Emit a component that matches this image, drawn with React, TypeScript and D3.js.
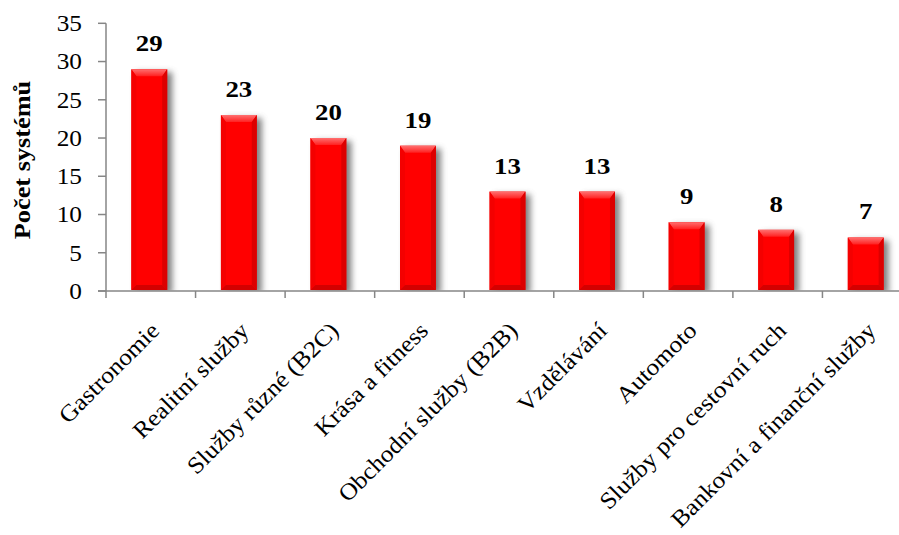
import React from "react";
import * as d3 from "d3";

const categories = [
  "Gastronomie",
  "Realitní služby",
  "Služby různé (B2C)",
  "Krása a fitness",
  "Obchodní služby (B2B)",
  "Vzdělávání",
  "Automoto",
  "Služby pro cestovní ruch",
  "Bankovní a finanční služby",
];
const values = [29, 23, 20, 19, 13, 13, 9, 8, 7];
const yTicks = [0, 5, 10, 15, 20, 25, 30, 35];
const yTitle = "Počet systémů";

const W = 899;
const H = 535;
const left = 106;
const right = 912;
const top = 23.3;
const bottom = 291;
const FONT = "'Liberation Serif', 'Times New Roman', serif";
const AXIS = "#868686";

export default function App() {
  const x = d3
    .scaleBand<string>()
    .domain(categories)
    .range([left, right])
    .paddingInner(0.6)
    .paddingOuter(0.3);
  const y = d3.scaleLinear().domain([0, 35]).range([bottom, top]);
  const step = x.step();
  const bw = x.bandwidth();
  const b = 5;

  return (
    <svg
      width={W}
      height={H}
      style={{ position: "absolute", left: 0, top: 0, background: "#fff" }}
    >
      <defs>
        <filter id="blur" x="-50%" y="-20%" width="200%" height="140%">
          <feGaussianBlur stdDeviation="3" />
        </filter>
        <clipPath id="plotclip">
          <rect x={left} y={0} width={W} height={bottom - 0.5} />
        </clipPath>
        <linearGradient id="topbev" x1="0" y1="0" x2="0" y2="1">
          <stop offset="0" stopColor="#ff7070" />
          <stop offset="1" stopColor="#ff2020" />
        </linearGradient>
      </defs>

      {/* shadows */}
      <g clipPath="url(#plotclip)">
        {values.map((v, i) => {
          const x0 = (x(categories[i]) as number) - 1.5;
          const y0 = y(v);
          return (
            <rect
              key={"s" + i}
              x={x0 + 5}
              y={y0 + 3}
              width={bw}
              height={bottom - y0}
              fill="#555"
              opacity={0.75}
              filter="url(#blur)"
            />
          );
        })}
      </g>

      {/* bars */}
      {values.map((v, i) => {
        const x0 = (x(categories[i]) as number) - 1.5;
        const x1 = x0 + bw;
        const y0 = y(v);
        const y1 = bottom - 1;
        return (
          <g key={"b" + i}>
            <rect x={x0} y={y0} width={bw} height={y1 - y0} fill="#ff0000" />
            <polygon
              points={`${x0},${y0} ${x1},${y0} ${x1 - b},${y0 + b + 2} ${x0 + b},${y0 + b + 2}`}
              fill="url(#topbev)"
            />
            <polygon
              points={`${x0},${y0} ${x0 + b},${y0 + b + 2} ${x0 + b},${y1 - b} ${x0},${y1}`}
              fill="#f40000"
            />
            <polygon
              points={`${x1},${y0} ${x1 - b},${y0 + b + 2} ${x1 - b},${y1 - b} ${x1},${y1}`}
              fill="#dc0000"
            />
            <polygon
              points={`${x0},${y1} ${x0 + b},${y1 - b} ${x1 - b},${y1 - b} ${x1},${y1}`}
              fill="#d40000"
            />
          </g>
        );
      })}

      {/* value labels */}
      {values.map((v, i) => {
        const cx = (x(categories[i]) as number) - 1.5 + bw / 2;
        return (
          <text
            key={"v" + i}
            transform={`translate(${cx},${y(v) - 18}) scale(1.12,1)`}
            textAnchor="middle"
            fontFamily={FONT}
            fontWeight="bold"
            fontSize={24}
            fill="#000"
          >
            {v}
          </text>
        );
      })}

      {/* y axis */}
      <line x1={left} x2={left} y1={top} y2={bottom} stroke={AXIS} strokeWidth={1.5} />
      {yTicks.map((t) => (
        <g key={"yt" + t}>
          <line x1={left - 8} x2={left} y1={y(t)} y2={y(t)} stroke={AXIS} strokeWidth={1.5} />
          <text
            transform={`translate(82,${y(t) + 7.8}) scale(1.1,1)`}
            textAnchor="end"
            fontFamily={FONT}
            fontSize={23}
            fill="#000"
          >
            {t}
          </text>
        </g>
      ))}

      {/* x axis */}
      <line x1={left - 8} x2={W} y1={bottom} y2={bottom} stroke={AXIS} strokeWidth={1.5} />
      {categories.map((c, i) => {
        const tx = left + i * step;
        return (
          <line
            key={"xt" + i}
            x1={tx}
            x2={tx}
            y1={bottom}
            y2={bottom + 7}
            stroke={AXIS}
            strokeWidth={1.5}
          />
        );
      })}
      {categories.map((c) => {
        const cx = (x(c) as number) + bw / 2;
        return (
          <text
            key={"xl" + c}
            transform={`translate(${cx + 10},332) rotate(-45) scale(1.08,1)`}
            textAnchor="end"
            fontFamily={FONT}
            fontSize={23.5}
            fill="#000"
          >
            {c}
          </text>
        );
      })}

      {/* y title */}
      <text
        transform={`translate(30,160) rotate(-90) scale(1.12,1)`}
        textAnchor="middle"
        fontFamily={FONT}
        fontWeight="bold"
        fontSize={23.5}
        fill="#000"
      >
        {yTitle}
      </text>
    </svg>
  );
}
